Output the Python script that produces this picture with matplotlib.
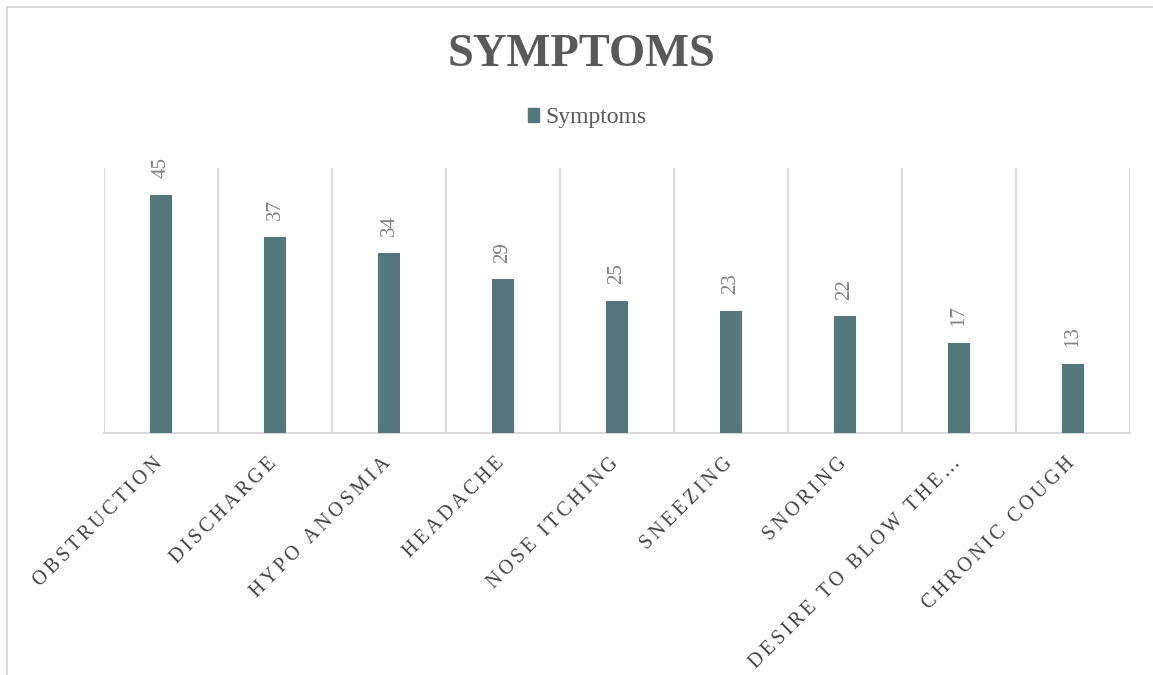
import matplotlib
matplotlib.use("Agg")
import matplotlib.pyplot as plt
from matplotlib.lines import Line2D
from matplotlib.transforms import ScaledTranslation

categories = ["Obstruction", "Discharge", "Hypo anosmia", "Headache",
              "Nose itching", "Sneezing", "Snoring", "Desire to blow the…",
              "Chronic cough"]
values = [45, 37, 34, 29, 25, 23, 22, 17, 13]
series_name = "Symptoms"
chart_title = "SYMPTOMS"

BAR = "#53777A"
GRID = "#D9D9D9"
SERIF = ["Liberation Serif", "DejaVu Serif"]


def spaced(text, gap="\u2006"):
    # widen tracking with narrow spaces between letters
    return gap.join(text.upper())


fig = plt.figure(figsize=(11.53, 6.75), dpi=100)
fig.patch.set_facecolor("white")

# chart-area frame (top and left edges)
fig.add_artist(Line2D([7 / 1153, 7 / 1153], [0, 1 - 7 / 675], transform=fig.transFigure,
                      color=GRID, lw=1.5))
fig.add_artist(Line2D([7 / 1153, 1], [1 - 7 / 675, 1 - 7 / 675], transform=fig.transFigure,
                      color=GRID, lw=1.5))

ax = fig.add_axes([104 / 1153, 242 / 675, (1130 - 104) / 1153, (433 - 168) / 675])
x = list(range(len(categories)))
ax.bar(x, values, width=0.185, color=BAR, zorder=3)

ax.set_xlim(-0.5, len(categories) - 0.5)
ax.set_ylim(0, 50)

# category separators
for b in range(len(categories) + 1):
    ax.axvline(b - 0.5, color=GRID, lw=1.3, zorder=1)

for s in ["top", "right", "left"]:
    ax.spines[s].set_visible(False)
ax.spines["bottom"].set_color(GRID)
ax.spines["bottom"].set_linewidth(1.5)
ax.set_yticks([])
ax.set_xticks(x)
ax.tick_params(axis="x", length=0, pad=15)
labels = ax.set_xticklabels([spaced(c) for c in categories], rotation=45, ha="right",
                            rotation_mode="anchor", fontsize=14.4, color="#404040",
                            family=SERIF)
shift = ScaledTranslation(-8 / 100, 0, fig.dpi_scale_trans)
for lab in labels:
    lab.set_transform(lab.get_transform() + shift)

for xi, v in zip(x, values):
    ax.annotate(str(v), (xi, v), xytext=(0, 12), textcoords="offset points",
                rotation=90, ha="center", va="bottom", fontsize=15,
                color="#7F7F7F", family=SERIF)

fig.text(581 / 1153, 1 - 55 / 675, chart_title, ha="center", va="center",
         fontsize=33.5, fontweight="bold", color="#595959", family=SERIF)

handle = plt.Rectangle((0, 0), 1, 1, color=BAR)
fig.legend([handle], [series_name], loc="center", bbox_to_anchor=(587 / 1153, 1 - 118 / 675),
           frameon=False, prop={"family": SERIF, "size": 17}, handlelength=0.5,
           handleheight=0.5, handletextpad=0.25, labelcolor="#595959")

fig.savefig("out.png", dpi=100, facecolor="white")
